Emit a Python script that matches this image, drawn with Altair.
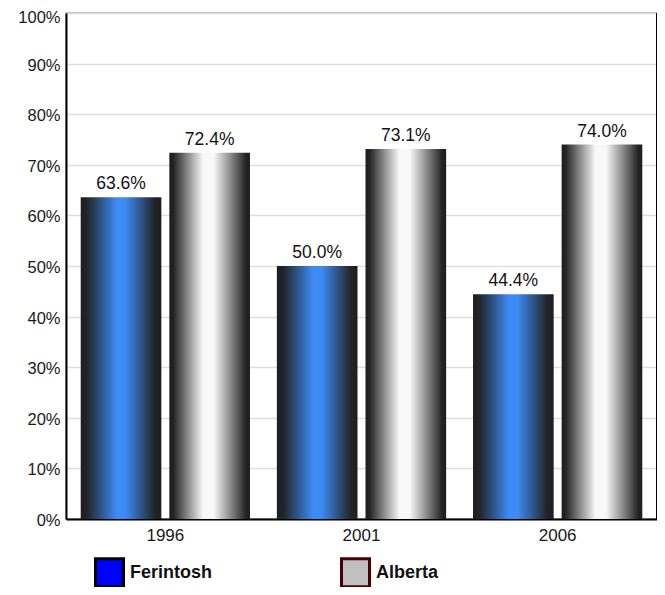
import altair as alt
import pandas as pd

years = ["1996", "2001", "2006"]
series = ["Ferintosh", "Alberta"]
ferintosh = [63.6, 50.0, 44.4]
alberta = [72.4, 73.1, 74.0]

rows = []
for i, y in enumerate(years):
    rows.append({"year": y, "series": "Ferintosh", "value": ferintosh[i]})
    rows.append({"year": y, "series": "Alberta", "value": alberta[i]})
df = pd.DataFrame(rows)

W, H = 591, 506
FONT = "Liberation Sans"

x_enc = alt.X("year:N", sort=years, title=None,
              scale=alt.Scale(paddingInner=0.137, paddingOuter=0.075),
              axis=alt.Axis(labelAngle=0, labelFontSize=17, labelColor="#1a1a1a",
                            labelFont=FONT, ticks=False, labelPadding=8,
                            domainColor="#000", domainWidth=2, grid=False))
xo_enc = alt.XOffset("series:N", sort=series,
                     scale=alt.Scale(paddingInner=0.09, paddingOuter=0))
y_enc = alt.Y("value:Q", title=None,
              scale=alt.Scale(domain=[0, 100]),
              axis=alt.Axis(values=list(range(0, 101, 10)),
                            labelExpr="datum.value + '%'",
                            labelFontSize=16.5, labelColor="#1a1a1a", labelFont=FONT,
                            ticks=False, labelPadding=6,
                            labelOffset={"condition": {"test": "datum.value == 100", "value": 4.3},
                                         "value": 1.5},
                            domainColor="#000", domainWidth=2,
                            gridColor="#dddddd", gridWidth=1.5))

base = alt.Chart(df).encode(x=x_enc, xOffset=xo_enc, y=y_enc)

blue_grad = alt.Gradient(
    gradient="linear", x1=0, x2=1, y1=0, y2=0,
    stops=[alt.GradientStop(color="#1e1e1e", offset=0),
           alt.GradientStop(color="#222428", offset=0.08),
           alt.GradientStop(color="#3d8cf5", offset=0.45),
           alt.GradientStop(color="#3d8cf5", offset=0.55),
           alt.GradientStop(color="#222428", offset=0.92),
           alt.GradientStop(color="#1e1e1e", offset=1)])
gray_grad = alt.Gradient(
    gradient="linear", x1=0, x2=1, y1=0, y2=0,
    stops=[alt.GradientStop(color="#1e1e1e", offset=0),
           alt.GradientStop(color="#242424", offset=0.05),
           alt.GradientStop(color="#f8f8f8", offset=0.42),
           alt.GradientStop(color="#f8f8f8", offset=0.55),
           alt.GradientStop(color="#242424", offset=0.95),
           alt.GradientStop(color="#1e1e1e", offset=1)])

bars_f = base.transform_filter(alt.datum.series == "Ferintosh").mark_bar(fill=blue_grad)
bars_a = base.transform_filter(alt.datum.series == "Alberta").mark_bar(fill=gray_grad)

labels = base.transform_calculate(
    label="format(datum.value, '.1f') + '%'"
).mark_text(baseline="bottom", dy=-4, fontSize=17.5, font=FONT, color="#111").encode(
    text="label:N")

legend_layer = base.mark_square(size=0, filled=True, opacity=1).encode(
    color=alt.Color("series:N", sort=series, title=None,
                    scale=alt.Scale(domain=series, range=["#0000ff", "#c0c0c0"]),
                    legend=alt.Legend(orient="none", legendX=28, legendY=544,
                                      direction="horizontal", columns=2,
                                      symbolType="square", symbolSize=784,
                                      symbolStrokeWidth=3, symbolOpacity=1,
                                      labelFontSize=18, labelFontWeight="bold",
                                      labelFont=FONT, labelColor="#111",
                                      labelOffset=5, columnPadding=122)),
    stroke=alt.Stroke("series:N", sort=series, title=None,
                      scale=alt.Scale(domain=series, range=["#000000", "#4a0000"])))

right_border = alt.Chart(df).mark_rule(color="#000", strokeWidth=1).encode(
    x=alt.value(W), y=alt.value(0), y2=alt.value(H))

chart = alt.layer(bars_f, bars_a, labels, legend_layer, right_border).properties(
    width=W, height=H,
    autosize=alt.AutoSizeParams(type="none"),
    padding={"left": 58, "top": 5, "right": 0, "bottom": 68},
).configure_view(stroke="#a8a8a8", strokeWidth=1.5)

chart.save("out.html", embed_options={"renderer": "svg", "actions": False})
